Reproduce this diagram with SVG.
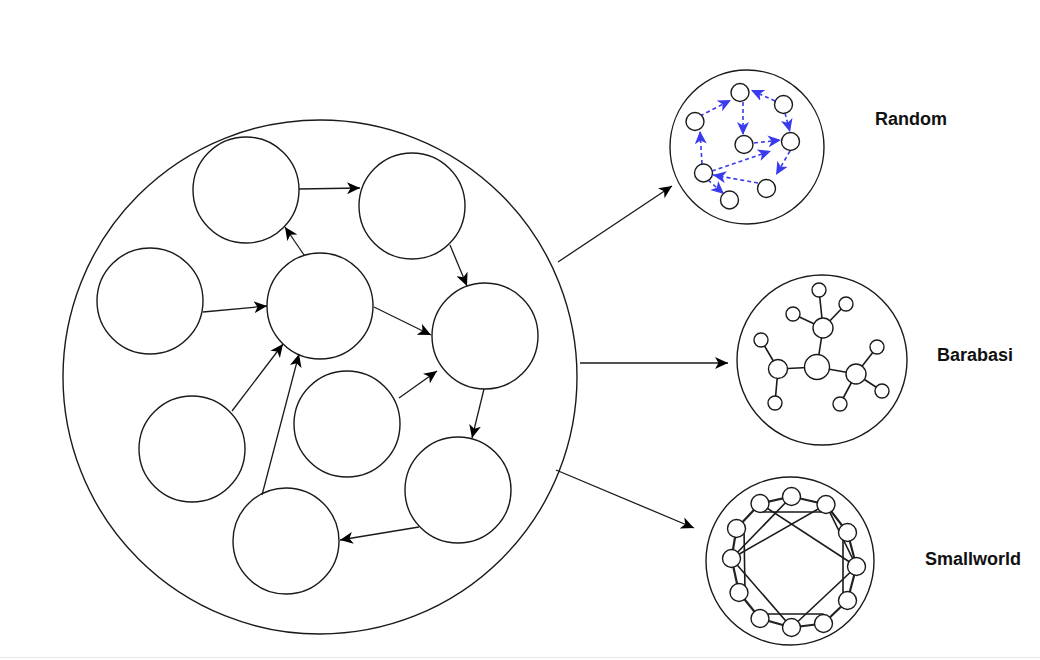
<svg xmlns="http://www.w3.org/2000/svg" width="1040" height="660" viewBox="0 0 1040 660">
<defs>
<style>
.c{fill:#fff;stroke:#1a1a1a;stroke-width:1.4}
.s{fill:#fff;stroke:#1a1a1a;stroke-width:1.4}
.e{stroke:#1a1a1a;stroke-width:1.3;fill:none}
.ed{stroke:#1a1a1a;stroke-width:1.6;fill:none}
.ring{stroke:#222;stroke-width:2.2;fill:none}
.b{stroke:#3a3aee;stroke-width:1.6;stroke-dasharray:4 3;fill:none}
.lbl{font-family:"Liberation Sans",Arial,sans-serif;font-weight:bold;font-size:18px;fill:#111}
</style>
<marker id="ah" markerWidth="14" markerHeight="12" refX="13" refY="6" orient="auto" markerUnits="userSpaceOnUse"><path d="M0,0 L13,6 L0,12 L3.5,6 z" fill="#000"/></marker>
<marker id="bh" markerWidth="14" markerHeight="12" refX="13" refY="6" orient="auto" markerUnits="userSpaceOnUse"><path d="M0,0 L13,6 L0,12 L3.5,6 z" fill="#3a3aee"/></marker>
</defs>
<rect width="1040" height="660" fill="#fff"/>
<rect x="0" y="657" width="1040" height="1" fill="#e8e8e8"/>

<g id="main-network">
<circle class="c" cx="320" cy="377" r="257"/>
</g>
<g id="n1"><circle class="c" cx="246" cy="190" r="53"/></g>
<g id="n2"><circle class="c" cx="412" cy="206" r="53"/></g>
<g id="n3"><circle class="c" cx="150" cy="301" r="53"/></g>
<g id="n4"><circle class="c" cx="320" cy="306" r="53"/></g>
<g id="n5"><circle class="c" cx="485" cy="336" r="53"/></g>
<g id="n6"><circle class="c" cx="192" cy="449" r="53"/></g>
<g id="n7"><circle class="c" cx="347" cy="424" r="53"/></g>
<g id="n8"><circle class="c" cx="458" cy="490" r="53"/></g>
<g id="n9"><circle class="c" cx="286" cy="541" r="53"/></g>

<g id="connectors">
<line class="e" x1="299" y1="189" x2="360" y2="188" marker-end="url(#ah)"/>
<line class="e" x1="304" y1="255" x2="285" y2="227" marker-end="url(#ah)"/>
<line class="e" x1="450" y1="245" x2="467" y2="286" marker-end="url(#ah)"/>
<line class="e" x1="203" y1="312" x2="267" y2="306" marker-end="url(#ah)"/>
<line class="e" x1="374" y1="307" x2="431" y2="335" marker-end="url(#ah)"/>
<line class="e" x1="232" y1="411" x2="283" y2="344" marker-end="url(#ah)"/>
<line class="e" x1="262" y1="495" x2="299" y2="354" marker-end="url(#ah)"/>
<line class="e" x1="399" y1="398" x2="437" y2="371" marker-end="url(#ah)"/>
<line class="e" x1="484" y1="389" x2="472" y2="438" marker-end="url(#ah)"/>
<line class="e" x1="419" y1="527" x2="340" y2="540" marker-end="url(#ah)"/>
<line class="e" x1="558" y1="262" x2="672" y2="186" marker-end="url(#ah)"/>
<line class="e" x1="580" y1="363" x2="728" y2="363" marker-end="url(#ah)"/>
<line class="e" x1="556" y1="470" x2="694" y2="528" marker-end="url(#ah)"/>
</g>

<g id="random">
<circle class="c" cx="747" cy="147" r="77"/>
<g id="random-edges">
<line class="b" x1="700" y1="116" x2="731" y2="100" marker-end="url(#bh)"/>
<line class="b" x1="775" y1="101" x2="751" y2="90" marker-end="url(#bh)"/>
<line class="b" x1="743" y1="102" x2="743" y2="135" marker-end="url(#bh)"/>
<line class="b" x1="785" y1="113" x2="790" y2="132" marker-end="url(#bh)"/>
<line class="b" x1="754" y1="143" x2="781" y2="140" marker-end="url(#bh)"/>
<line class="b" x1="702" y1="164" x2="700" y2="131" marker-end="url(#bh)"/>
<line class="b" x1="712" y1="171" x2="771" y2="151" marker-end="url(#bh)"/>
<line class="b" x1="790" y1="151" x2="776" y2="175" marker-end="url(#bh)"/>
<line class="b" x1="758" y1="183" x2="713" y2="175" marker-end="url(#bh)"/>
<line class="b" x1="708" y1="180" x2="724" y2="194" marker-end="url(#bh)"/>
</g>
<circle class="s" cx="740" cy="92.5" r="9"/>
<circle class="s" cx="783.5" cy="104.5" r="9"/>
<circle class="s" cx="695" cy="121.5" r="9"/>
<circle class="s" cx="744" cy="144.5" r="9"/>
<circle class="s" cx="790.5" cy="141.5" r="9"/>
<circle class="s" cx="703.5" cy="173" r="9"/>
<circle class="s" cx="766.5" cy="188.5" r="9"/>
<circle class="s" cx="729.5" cy="200" r="9"/>
</g>

<g id="barabasi">
<circle class="c" cx="822" cy="360" r="85"/>
<g id="barabasi-edges">
<line class="ed" x1="817" y1="367" x2="823" y2="328"/>
<line class="ed" x1="817" y1="367" x2="778" y2="369"/>
<line class="ed" x1="817" y1="367" x2="856" y2="374"/>
<line class="ed" x1="823" y1="328" x2="819" y2="290"/>
<line class="ed" x1="823" y1="328" x2="846" y2="304"/>
<line class="ed" x1="823" y1="328" x2="793" y2="314"/>
<line class="ed" x1="778" y1="369" x2="761" y2="340"/>
<line class="ed" x1="778" y1="369" x2="775" y2="403"/>
<line class="ed" x1="856" y1="374" x2="877" y2="347"/>
<line class="ed" x1="856" y1="374" x2="882" y2="391"/>
<line class="ed" x1="856" y1="374" x2="840" y2="404"/>
</g>
<circle class="s" cx="817" cy="367" r="12.5"/>
<circle class="s" cx="823" cy="328" r="10"/>
<circle class="s" cx="778" cy="369" r="9.5"/>
<circle class="s" cx="856" cy="374" r="10"/>
<circle class="s" cx="819" cy="290" r="7"/>
<circle class="s" cx="846" cy="304" r="7"/>
<circle class="s" cx="793" cy="314" r="7"/>
<circle class="s" cx="761" cy="340" r="7"/>
<circle class="s" cx="775" cy="403" r="7"/>
<circle class="s" cx="877" cy="347" r="7"/>
<circle class="s" cx="882" cy="391" r="7"/>
<circle class="s" cx="840" cy="404" r="7"/>
</g>

<g id="smallworld">
<circle class="c" cx="790" cy="561" r="84"/>
<g id="smallworld-edges">
<polygon class="ring" points="791.5,496.5 826,504.5 847.5,532.5 856.5,566.5 847.5,600.5 823.5,623.5 791.5,627.5 760,618.5 739,592.5 731.5,558.5 736.5,528.5 760,503.5"/>
<line class="ed" x1="760" y1="512" x2="826" y2="512"/>
<line class="ed" x1="760" y1="503.5" x2="856.5" y2="566.5"/>
<line class="ed" x1="826" y1="504.5" x2="856.5" y2="566.5"/>
<line class="ed" x1="791.5" y1="496.5" x2="731.5" y2="558.5"/>
<line class="ed" x1="826" y1="504.5" x2="731.5" y2="558.5"/>
<line class="ed" x1="843" y1="532.5" x2="843" y2="600.5"/>
<line class="ed" x1="744" y1="528.5" x2="745" y2="592.5"/>
<line class="ed" x1="731.5" y1="558.5" x2="791.5" y2="627.5"/>
<line class="ed" x1="856.5" y1="566.5" x2="791.5" y2="627.5"/>
<line class="ed" x1="760" y1="614" x2="823.5" y2="614"/>
</g>
<circle class="s" cx="791.5" cy="496.5" r="9"/>
<circle class="s" cx="826" cy="504.5" r="9"/>
<circle class="s" cx="847.5" cy="532.5" r="9"/>
<circle class="s" cx="856.5" cy="566.5" r="9"/>
<circle class="s" cx="847.5" cy="600.5" r="9"/>
<circle class="s" cx="823.5" cy="623.5" r="9"/>
<circle class="s" cx="791.5" cy="627.5" r="9"/>
<circle class="s" cx="760" cy="618.5" r="9"/>
<circle class="s" cx="739" cy="592.5" r="9"/>
<circle class="s" cx="731.5" cy="558.5" r="9"/>
<circle class="s" cx="736.5" cy="528.5" r="9"/>
<circle class="s" cx="760" cy="503.5" r="9"/>
</g>

<g id="labels">
<text class="lbl" x="875" y="125">Random</text>
<text class="lbl" x="937" y="361">Barabasi</text>
<text class="lbl" x="925" y="565">Smallworld</text>
</g>
</svg>
